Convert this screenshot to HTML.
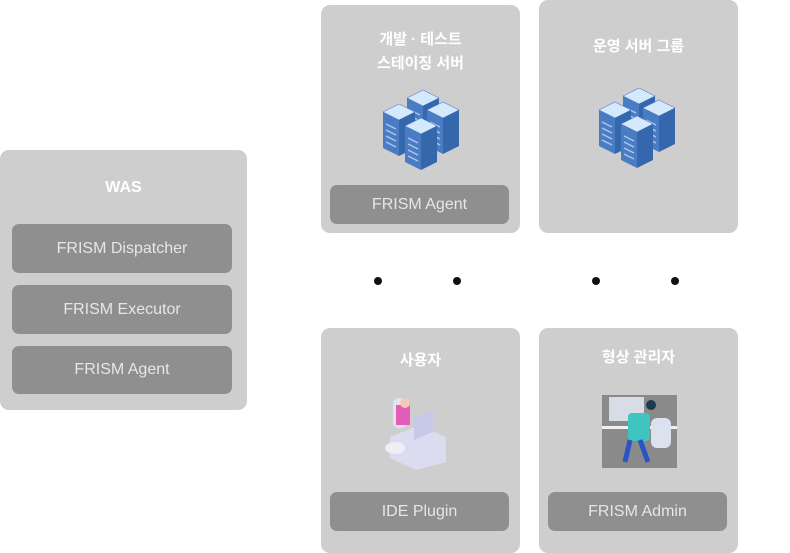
<!DOCTYPE html><html><head><meta charset="utf-8"><style>
body{margin:0;width:790px;height:543px;background:#fff;position:relative;overflow:hidden;font-family:"Liberation Sans","Noto Sans CJK KR",sans-serif}
.b{position:absolute;background:#cecece;border-radius:9px}
.bar{position:absolute;background:#8f8f8f;border-radius:7px;color:#e6e6e6;font-size:16px;display:flex;align-items:center;justify-content:center}
.t{position:absolute;color:#fff;font-weight:bold;font-size:15px;text-align:center;line-height:24px}
.d{position:absolute;width:8px;height:8px;border-radius:50%;background:#111}
</style></head><body>
<div class="b" style="left:0;top:150px;width:247px;height:260px"></div>
<div class="t" style="left:0;top:176px;width:247px;font-size:16px">WAS</div>
<div class="bar" style="left:12px;top:224px;width:220px;height:49px">FRISM Dispatcher</div>
<div class="bar" style="left:12px;top:285px;width:220px;height:49px">FRISM Executor</div>
<div class="bar" style="left:12px;top:346px;width:220px;height:48px">FRISM Agent</div>

<div class="b" style="left:321px;top:5px;width:199px;height:228px"></div>
<div class="t" style="left:321px;top:28px;width:199px">개발 · 테스트<br>스테이징 서버</div>
<div class="bar" style="left:330px;top:185px;width:179px;height:39px">FRISM Agent</div>
<div class="b" style="left:539px;top:0;width:199px;height:233px"></div>
<div class="t" style="left:539px;top:35px;width:199px">운영 서버 그룹</div>

<div class="b" style="left:321px;top:328px;width:199px;height:225px"></div>
<div class="t" style="left:321px;top:349px;width:199px">사용자</div>
<div class="bar" style="left:330px;top:492px;width:179px;height:39px">IDE Plugin</div>
<div class="b" style="left:539px;top:328px;width:199px;height:225px"></div>
<div class="t" style="left:539px;top:346px;width:199px">형상 관리자</div>
<div class="bar" style="left:548px;top:492px;width:179px;height:39px">FRISM Admin</div>

<div class="d" style="left:374px;top:277px"></div><div class="d" style="left:453px;top:277px"></div>
<div class="d" style="left:592px;top:277px"></div><div class="d" style="left:671px;top:277px"></div>

<svg style="position:absolute;left:0;top:0" width="790" height="543">
<defs><g id="s"><polygon points="0,8 16,0 32,8 16,16" fill="#d4eafc" stroke="#5a7fd0" stroke-width="0.6"/><polygon points="0,8 16,16 16,52 0,44" fill="#4a7cc4"/><polygon points="16,16 32,8 32,44 16,52" fill="#3567ad"/><path d="M3 20 L13 25 M3 26 L13 31 M3 32 L13 37 M3 38 L13 43" stroke="#a9c6ee" stroke-width="1.5"/></g>
<g id="g"><use href="#s" x="24" y="0"/><use href="#s" x="0" y="14"/><use href="#s" x="44" y="12"/><use href="#s" x="22" y="28"/></g></defs>
<use href="#g" transform="translate(383,90)"/>
<use href="#g" transform="translate(599,88)"/>
<!-- user -->
<rect x="393" y="398" width="14" height="30" rx="6" fill="#e3e3ee"/>
<rect x="396" y="405" width="14" height="20" fill="#e25db8"/>
<circle cx="405" cy="403" r="5" fill="#f5c9b8"/>
<polygon points="390,437 420,425 446,437 446,462 416,470 390,458" fill="#dcdcf0"/>
<polygon points="414,418 433,410 433,432 414,440" fill="#c8c8e8"/>
<ellipse cx="395" cy="448" rx="10" ry="6" fill="#eeeef6"/>
<!-- admin -->
<rect x="602" y="395" width="75" height="73" fill="#8a8a8a"/>
<rect x="609" y="397" width="35" height="24" fill="#d7dde6"/>
<rect x="602" y="426" width="75" height="3" fill="#f0f0f0"/>
<rect x="628" y="413" width="22" height="28" rx="4" fill="#3fc4c0"/>
<circle cx="651" cy="405" r="5" fill="#1d3a4e"/>
<path d="M630 440 L625 462 M640 440 L648 462" stroke="#2b53c6" stroke-width="5"/>
<rect x="651" y="418" width="20" height="30" rx="6" fill="#dbe1ee"/>
</svg>
</body></html>
